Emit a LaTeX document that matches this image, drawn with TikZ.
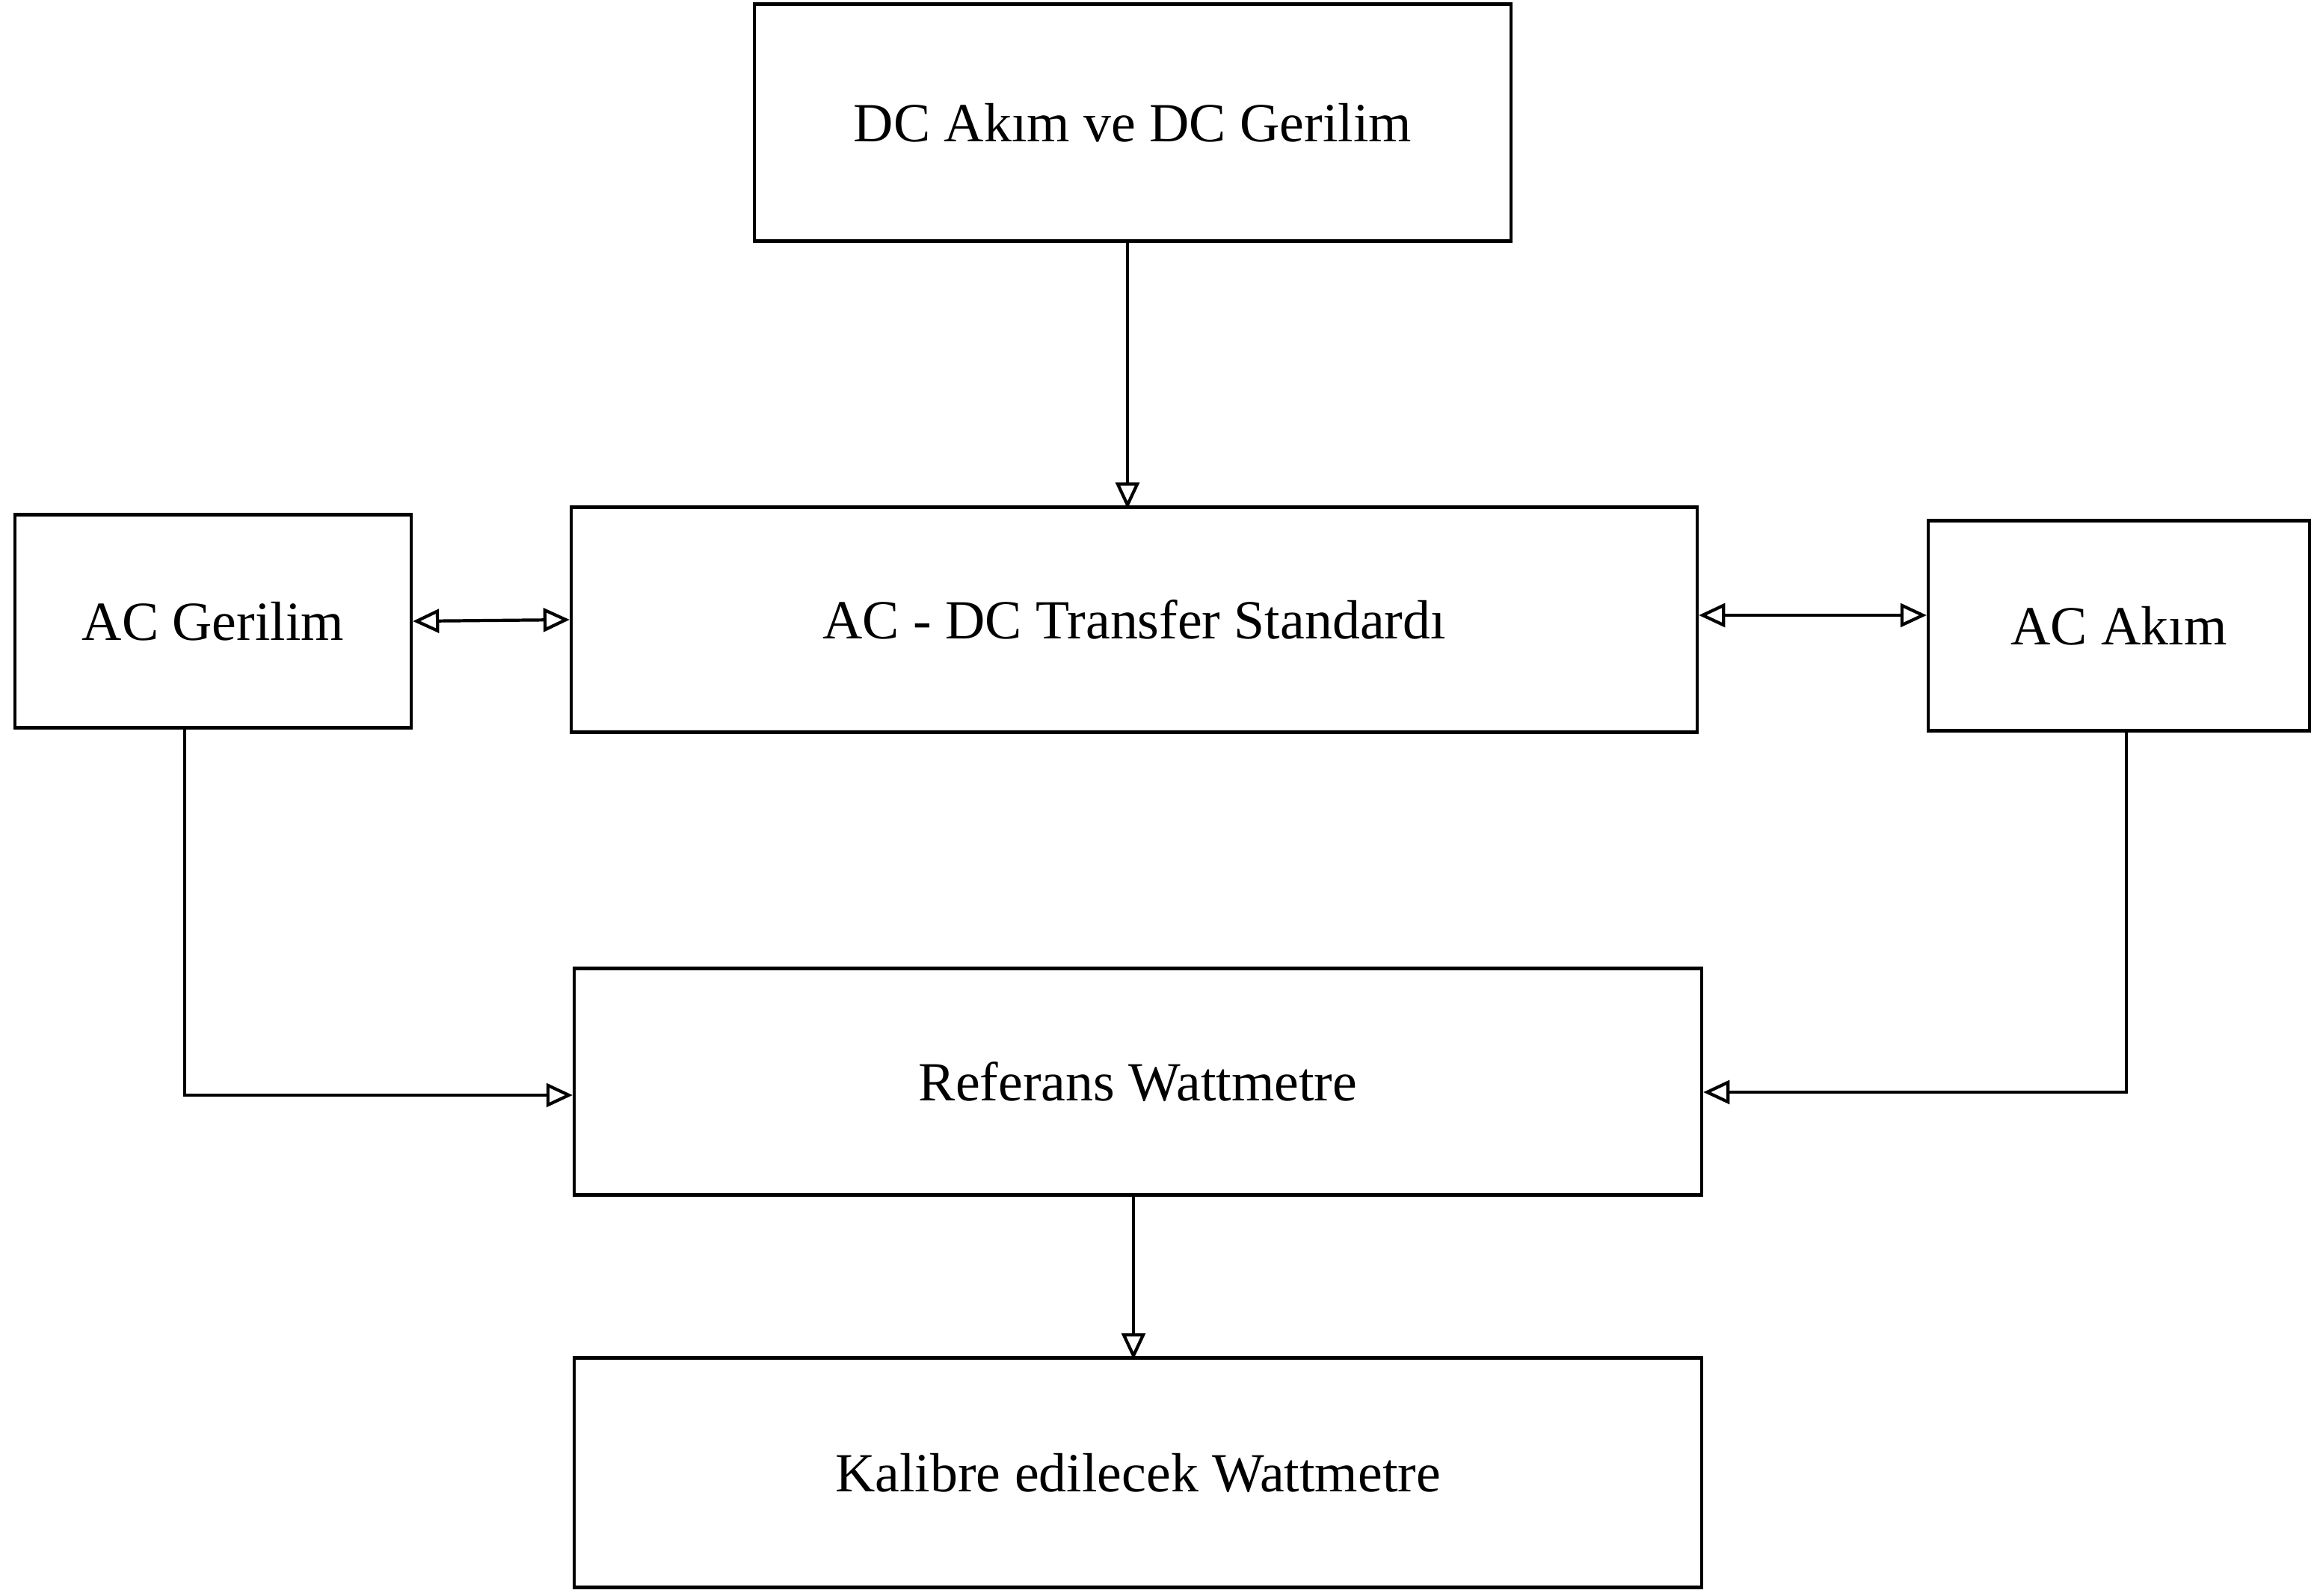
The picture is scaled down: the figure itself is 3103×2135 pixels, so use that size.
\documentclass[tikz,border=0pt]{standalone}
\usepackage{fontspec}
\setmainfont{Liberation Serif}
\usetikzlibrary{arrows.meta}

\tikzset{every picture/.style={line width=1.2pt}}
\tikzset{
  blok/.style={draw, rectangle, inner sep=0pt, align=center, font=\fontsize{21}{25}\selectfont},
  ok/.style={-{Triangle[open, length=10pt, width=9pt]}},
  ciftok/.style={{Triangle[open, length=10pt, width=9pt]}-{Triangle[open, length=10pt, width=9pt]}}
}

\begin{document}
\begin{tikzpicture}[x=0.1mm,y=0.1mm,yscale=-1,xscale=1]
    \useasboundingbox (0,0) rectangle (3103,2135);

    % Boxes
    \node [blok, minimum width=101.2mm, minimum height=31.7mm] (dc) at (1515,164) {DC Akım ve DC Gerilim};
    \node [blok, minimum width=53.0mm, minimum height=28.5mm] (acg) at (285,831) {AC Gerilim};
    \node [blok, minimum width=150.6mm, minimum height=30.1mm] (tr) at (1517,829) {AC - DC Transfer Standardı};
    \node [blok, minimum width=51.0mm, minimum height=28.1mm] (aca) at (2834,837) {AC Akım};
    \node [blok, minimum width=150.8mm, minimum height=30.3mm] (ref) at (1522,1447) {Referans Wattmetre};
    \node [blok, minimum width=150.8mm, minimum height=30.7mm] (kal) at (1522,1970) {Kalibre edilecek Wattmetre};

    % Connectors
    \draw [ok] (dc.south) ++(-7,0) -- ++(0,356);
    \draw [ciftok] (acg.east) -- (tr.west);
    \draw [ciftok] ([yshift=-0.6mm]tr.east) -- ([yshift=-0.6mm]tr.east -| aca.west);
    \draw [ok] (acg.south) ++(-38,0) |- ([yshift=1.8mm]ref.west);
    \draw [ok] (aca.south) ++(10,0) |- ([yshift=1.4mm]ref.east);
    \draw [ok] (ref.south) ++(-6,0) -- ++(0,218);

\end{tikzpicture}
\end{document}
